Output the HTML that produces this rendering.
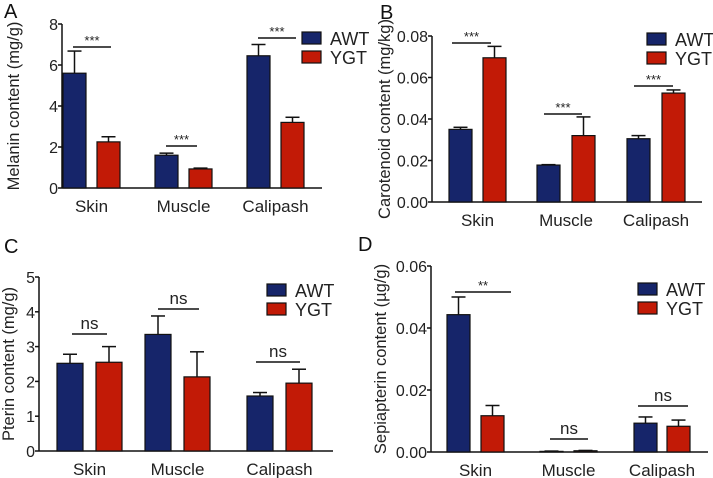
<!DOCTYPE html>
<html><head><meta charset="utf-8"><style>
html,body{margin:0;padding:0;background:#fff}
svg{display:block;font-family:"Liberation Sans",Arial,sans-serif}
</style></head><body>
<svg id="fig" width="713" height="478" viewBox="0 0 713 478"></svg>
<script>
const categories = ["Skin","Muscle","Calipash"];
const seriesNames = ["AWT","YGT"];
// Panel A melanin
const melaninAWT = [5.6,1.6,6.45], melaninAWTerr = [1.08,0.1,0.55];
const melaninYGT = [2.25,0.93,3.2], melaninYGTerr = [0.25,0.04,0.25];
const melaninTicks = ["0","2","4","6","8"];
// Panel B carotenoid
const caroAWT = [0.035,0.0178,0.0305], caroAWTerr = [0.001,0.0002,0.0015];
const caroYGT = [0.0695,0.032,0.0525], caroYGTerr = [0.0055,0.009,0.0015];
const caroTicks = ["0.00","0.02","0.04","0.06","0.08"];
// Panel C pterin
const pterinAWT = [2.52,3.35,1.58], pterinAWTerr = [0.26,0.53,0.1];
const pterinYGT = [2.55,2.13,1.95], pterinYGTerr = [0.45,0.72,0.4];
const pterinTicks = ["0","1","2","3","4","5"];
// Panel D sepiapterin
const sepiAWT = [0.0443,0.0002,0.0093], sepiAWTerr = [0.0057,0.0001,0.002];
const sepiYGT = [0.0117,0.0004,0.0083], sepiYGTerr = [0.0033,0.0001,0.002];
const sepiTicks = ["0.00","0.02","0.04","0.06"];
const sigA = ["***","***","***"], sigB = ["***","***","***"], sigC = ["ns","ns","ns"], sigD = ["**","ns","ns"];

const NS="http://www.w3.org/2000/svg";
const svg=document.getElementById('fig');
function mk(tag,attrs,parent,text){const e=document.createElementNS(NS,tag);for(const k in attrs)e.setAttribute(k,attrs[k]);if(text!==undefined)e.textContent=text;(parent||svg).appendChild(e);return e;}

function panel(p){
  const g=mk('g',{});
  
  
  const ymax=parseFloat(p.ticks[p.ticks.length-1]);
  const y=v=>p.y0-(v/ymax)*(p.y0-p.ytop);
  const lbl=mk('text',{x:p.lx,y:p.ly,'font-size':20,fill:'#111'},g,p.letter);
  
  
  const ya=mk('line',{x1:p.ax,y1:p.ytop,x2:p.ax,y2:p.y0,stroke:'#111','stroke-width':1.5},g);
  
  
  const xa=mk('line',{x1:p.ax,y1:p.y0,x2:p.xend,y2:p.y0,stroke:'#111','stroke-width':1.5},g);
  
  
  p.ticks.forEach(t=>{
    const yy=y(parseFloat(t));
    mk('line',{x1:p.ax-4,y1:yy,x2:p.ax,y2:yy,stroke:'#111','stroke-width':1.5},g);
    const tt=mk('text',{x:p.ax-4,y:yy+6,'font-size':16,'text-anchor':'end',fill:'#222'},g,t);
    
    
  });
  const ymid=(p.ytop+p.y0)/2;
  const yt=mk('text',{x:p.ytx,y:ymid,'font-size':16.5,'text-anchor':'middle',fill:'#222',transform:`rotate(-90 ${p.ytx} ${ymid})`},g,p.title);
  
  
  const cols=['#16256a','#c21a06'];
  categories.forEach((c,i)=>{
    const vals=[p.a[i],p.b[i]], errs=[p.ae[i],p.be[i]];
    for(let s=0;s<2;s++){
      const x0=p.bx[i][s], v=vals[s];
      const top=y(v), et=y(v+errs[s]);
      const cx=x0+p.bw/2;
      const el=mk('line',{x1:cx,y1:top,x2:cx,y2:et,stroke:'#111','stroke-width':1.5},g);
      
      
      mk('line',{x1:cx-7,y1:et,x2:cx+7,y2:et,stroke:'#111','stroke-width':1.5},g);
      const r=mk('rect',{x:x0,y:top,width:p.bw,height:Math.max(p.y0-top,0.5),fill:cols[s],stroke:'#111','stroke-width':1.2},g);
      
      
    }
    const cl=mk('text',{x:(p.bx[i][0]+p.bx[i][1]+p.bw)/2,y:p.y0+24,'font-size':17,'text-anchor':'middle',fill:'#222'},g,c);
    
    
    const sl=p.sig[i];
    const ln=mk('line',{x1:sl[0],y1:sl[2],x2:sl[1],y2:sl[2],stroke:'#111','stroke-width':1.5},g);
    
    
    const isns=p.sigt[i]==='ns';
    const st=mk('text',{x:(sl[0]+sl[1])/2,y:sl[2]-(isns?5:2),'font-size':isns?17:13,'text-anchor':'middle',fill:'#222'},g,p.sigt[i]);
    
    
  });
  seriesNames.forEach((n,s)=>{
    const sw=mk('rect',{x:p.leg[0],y:p.leg[1]+s*19,width:19,height:12,fill:cols[s],stroke:'#111','stroke-width':1.2},g);
    
    
    const lt=mk('text',{x:p.leg[0]+28,y:p.leg[1]+s*19+13,'font-size':18,fill:'#222'},g,n);
    
    
  });
}

panel({letter:'A',lx:4,ly:18,ax:62,ytop:24,y0:188,xend:322,ytx:19,title:'Melanin content (mg/g)',ticks:melaninTicks,
  a:melaninAWT,ae:melaninAWTerr,b:melaninYGT,be:melaninYGTerr,bw:23,
  bx:[[63,97],[155,189],[247,281]],sig:[[73,111,47],[166,197,146],[258,296,38]],sigt:sigA,leg:[302,32]});
panel({letter:'B',lx:380,ly:19,ax:432,ytop:36,y0:202,xend:702,ytx:390,title:'Carotenoid content (mg/kg)',ticks:caroTicks,
  a:caroAWT,ae:caroAWTerr,b:caroYGT,be:caroYGTerr,bw:23,
  bx:[[449,483],[537,572],[627,662]],sig:[[452,491,43],[544,582,114],[634,673,86]],sigt:sigB,leg:[647,33]});
panel({letter:'C',lx:4,ly:253,ax:39,ytop:277,y0:451,xend:333,ytx:14,title:'Pterin content (mg/g)',ticks:pterinTicks,
  a:pterinAWT,ae:pterinAWTerr,b:pterinYGT,be:pterinYGTerr,bw:26,
  bx:[[57,96],[145,184],[247,286]],sig:[[72,107,334],[158,199,309],[256,300,362]],sigt:sigC,leg:[267,284]});
panel({letter:'D',lx:358,ly:251,ax:431,ytop:266,y0:452,xend:708,ytx:386,title:'Sepiapterin content (µg/g)',ticks:sepiTicks,
  a:sepiAWT,ae:sepiAWTerr,b:sepiYGT,be:sepiYGTerr,bw:23,
  bx:[[447,481],[540,574],[634,667]],sig:[[455,511,292],[550,588,439],[638,688,406]],sigt:sigD,leg:[638,283]});
</script>
</body></html>
